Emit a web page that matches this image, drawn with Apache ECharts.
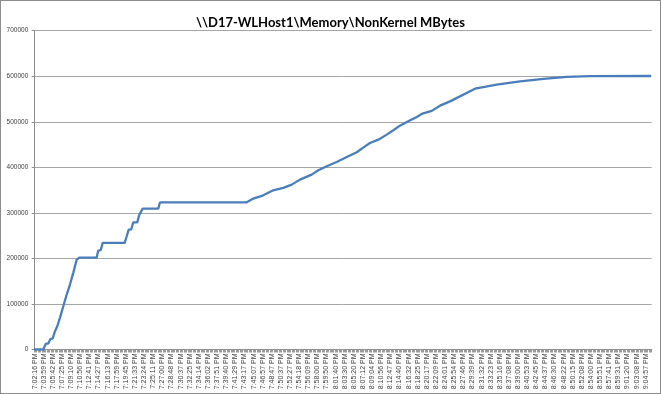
<!DOCTYPE html>
<html>
<head>
<meta charset="utf-8">
<script src="https://cdn.jsdelivr.net/npm/echarts@6/dist/echarts.min.js"></script>
<style>
  html, body { margin: 0; padding: 0; background: #fff; }
  #chart { width: 661px; height: 394px; box-sizing: border-box; border: 1px solid #8c8c8c; }
</style>
</head>
<body>
<div id="chart"></div>
<script>
const chartTitle = "\\\\D17-WLHost1\\Memory\\NonKernel MBytes";

const tickLabels = [
  "7:02:16 PM","7:03:59 PM","7:05:42 PM","7:07:25 PM","7:09:10 PM","7:10:56 PM","7:12:41 PM","7:14:27 PM",
  "7:16:13 PM","7:17:59 PM","7:19:45 PM","7:21:33 PM","7:23:24 PM","7:25:11 PM","7:27:00 PM","7:28:48 PM",
  "7:30:37 PM","7:32:25 PM","7:34:14 PM","7:36:02 PM","7:37:51 PM","7:39:40 PM","7:41:29 PM","7:43:17 PM",
  "7:45:07 PM","7:46:57 PM","7:48:47 PM","7:50:37 PM","7:52:27 PM","7:54:18 PM","7:56:09 PM","7:58:00 PM",
  "7:59:50 PM","8:01:40 PM","8:03:30 PM","8:05:20 PM","8:07:12 PM","8:09:04 PM","8:10:56 PM","8:12:47 PM",
  "8:14:40 PM","8:16:32 PM","8:18:25 PM","8:20:17 PM","8:22:09 PM","8:24:01 PM","8:25:54 PM","8:27:46 PM",
  "8:29:39 PM","8:31:32 PM","8:33:23 PM","8:35:16 PM","8:37:08 PM","8:39:00 PM","8:40:53 PM","8:42:45 PM",
  "8:44:37 PM","8:46:30 PM","8:48:22 PM","8:50:15 PM","8:52:08 PM","8:54:00 PM","8:55:51 PM","8:57:41 PM",
  "8:59:31 PM","9:01:20 PM","9:03:08 PM","9:04:57 PM"
];

// position along the time axis, in units of labelled ticks (0 = first label)
const samplePos = [
  -0.08, 0.94, 1.24, 1.49, 1.75, 1.97, 2.23, 2.48, 2.77, 3.14, 3.51, 3.87, 4.23, 4.61, 4.89,
  6.80, 6.97, 7.24, 7.46, 9.87, 10.09, 10.31, 10.59, 10.81, 11.25, 11.47, 11.62, 11.84,
  13.55, 13.74, 23.25, 23.97, 25.07, 26.16, 27.26, 28.18, 29.09, 30.37, 31.10, 32.02,
  33.11, 34.39, 35.31, 36.22, 36.76, 37.68, 38.60, 39.32, 40.05, 40.96, 41.89, 42.43,
  43.53, 44.44, 45.54, 48.28, 50.66, 53.22, 55.77, 58.34, 60.89, 67.57
];

const nonKernelMB = [
  0, 0, 13000, 13000, 23400, 24000, 40200, 51100, 69500, 95000, 120700, 142600, 168300, 197500, 201900,
  201900, 217300, 218000, 234100, 234100, 248600, 263300, 264000, 279300, 279300, 295500, 297000, 309400,
  309400, 323200, 323200, 331400, 338600, 349600, 354800, 362000, 373000, 384000, 393500, 402300,
  411800, 424200, 433000, 446100, 453500, 460800, 471800, 481300, 491500, 501000, 510700, 517300,
  524000, 535400, 544800, 572700, 581500, 588800, 594000, 598400, 600300, 600500
];

const yTicks = [0, 100000, 200000, 300000, 400000, 500000, 600000, 700000];

const seriesData = samplePos.map((p, i) => [p, nonKernelMB[i]]);
const labelPositions = tickLabels.map((_, i) => i);
const samplesPerLabel = 7;
const minorTickPositions = [];
for (let k = -1; k <= tickLabels.length * samplesPerLabel - 3; k++) {
  minorTickPositions.push(k / samplesPerLabel + 0.07);
}

const chart = echarts.init(document.getElementById('chart'), null, { renderer: 'canvas' });
chart.setOption({
  animation: false,
  backgroundColor: '#ffffff',
  title: {
    text: chartTitle,
    left: 'center',
    top: 10,
    textStyle: { fontFamily: 'Lato', fontWeight: 'bold', fontSize: 13, color: '#000' }
  },
  grid: { left: 32.3, right: 8.3, top: 29.7, bottom: 43.5, containLabel: false },
  xAxis: {
    type: 'value',
    min: -0.15,
    max: 67.65,
    splitLine: { show: false },
    axisLine: { show: true, lineStyle: { color: '#8c8c8c', width: 1 } },
    axisTick: {
      show: true, length: 3, inside: false,
      customValues: minorTickPositions,
      lineStyle: { color: '#9a9a9a', width: 1 }
    },
    axisLabel: {
      customValues: labelPositions,
      rotate: 90,
      margin: 4,
      fontSize: 7,
      fontFamily: 'Liberation Sans',
      color: '#404040',
      formatter: (v) => tickLabels[Math.round(v)] || ''
    }
  },
  yAxis: {
    type: 'value',
    min: yTicks[0],
    max: yTicks[yTicks.length - 1],
    interval: 100000,
    axisLine: { show: true, lineStyle: { color: '#8c8c8c', width: 1 } },
    axisTick: { show: true, length: 3, lineStyle: { color: '#8c8c8c' } },
    splitLine: { show: true, lineStyle: { color: '#a6a6a6', width: 1 } },
    axisLabel: {
      fontSize: 6.5, fontFamily: 'Liberation Sans', color: '#404040', margin: 5,
      formatter: (v) => String(v)
    }
  },
  series: [{
    type: 'line',
    data: seriesData,
    showSymbol: false,
    symbol: 'none',
    smooth: false,
    lineStyle: { color: '#4a7ebb', width: 2.3 },
    itemStyle: { color: '#4a7ebb' }
  }]
});
</script>
</body>
</html>
